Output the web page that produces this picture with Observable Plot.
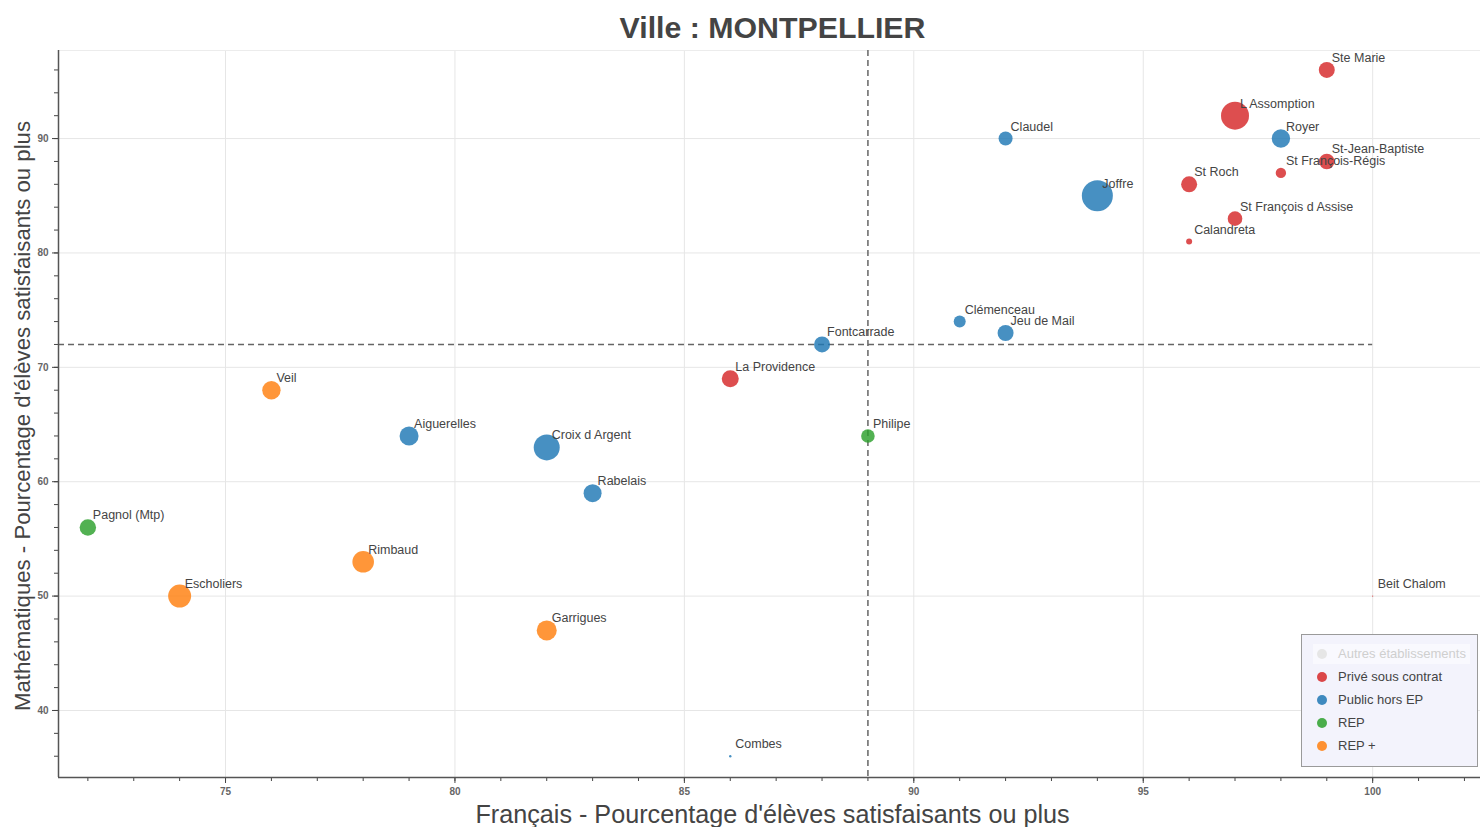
<!DOCTYPE html>
<html>
<head>
<meta charset="utf-8">
<script src="https://cdn.jsdelivr.net/npm/d3@7"></script>
<script src="https://cdn.jsdelivr.net/npm/@observablehq/plot@0.6"></script>
<style>
  html, body { margin: 0; padding: 0; background: #fff; }
  #wrap { position: relative; width: 1480px; height: 827px; font-family: "Liberation Sans", Arial, sans-serif; }
  #legend { position: absolute; left: 1301px; top: 634px; width: 175px; height: 131px;
            background: #f3f3fc; border: 1px solid #9a9a9a; font-size: 13px; color: #444; }
  .item { position: absolute; left: 11px; height: 20px; line-height: 20px; white-space: nowrap; padding: 0 4px; }
  .dot { display: inline-block; width: 10px; height: 10px; border-radius: 50%; margin-right: 11px; vertical-align: -1px; }
</style>
</head>
<body>
<div id="wrap"></div>
<script>
// ---- data ----
const noms = ["Ste Marie", "L Assomption", "Royer", "St-Jean-Baptiste", "St François-Régis", "St Roch",
  "St François d Assise", "Calandreta", "Claudel", "Joffre", "Clémenceau", "Jeu de Mail", "Fontcarrade",
  "La Providence", "Philipe", "Veil", "Aiguerelles", "Croix d Argent", "Rabelais", "Pagnol (Mtp)",
  "Rimbaud", "Escholiers", "Garrigues", "Combes", "Beit Chalom"];
const francais = [99, 97, 98, 99, 98, 96, 97, 96, 92, 94, 91, 92, 88, 86, 89, 76, 79, 82, 83, 72, 78, 74, 82, 86, 100];
const maths = [96, 92, 90, 88, 87, 86, 83, 81, 90, 85, 74, 73, 72, 69, 64, 68, 64, 63, 59, 56, 53, 50, 47, 36, 50];
const secteur = ["Privé sous contrat", "Privé sous contrat", "Public hors EP", "Privé sous contrat", "Privé sous contrat",
  "Privé sous contrat", "Privé sous contrat", "Privé sous contrat", "Public hors EP", "Public hors EP",
  "Public hors EP", "Public hors EP", "Public hors EP", "Privé sous contrat", "REP", "REP +", "Public hors EP",
  "Public hors EP", "Public hors EP", "REP", "REP +", "REP +", "REP +", "Public hors EP", "Privé sous contrat"];
const effectif = [80, 140, 92, 78, 52, 80, 73, 30, 70, 155, 60, 80, 80, 85, 68, 92, 95, 130, 90, 82, 108, 115, 100, 12, 6];
const categories = ["Autres établissements", "Privé sous contrat", "Public hors EP", "REP", "REP +"];
const couleurs = ["#d9d9d9", "#d62728", "#1f77b4", "#2ca02c", "#ff7f0e"];
const seuilFrancais = 89;
const seuilMaths = 72;
const ticksX = [75, 80, 85, 90, 95, 100];
const ticksY = [40, 50, 60, 70, 80, 90];
const titre = "Ville : MONTPELLIER";
const labelX = "Français - Pourcentage d'élèves satisfaisants ou plus";
const labelY = "Mathématiques - Pourcentage d'élèves satisfaisants ou plus";

const data = noms.map((n, i) => ({nom: n, fr: francais[i], ma: maths[i], secteur: secteur[i], eff: effectif[i]}));
const xDom = [71.36, 102.35];
const yDom = [34.14, 97.7];
const minorX = d3.range(72, 103);
const minorY = d3.range(36, 98, 2);

const chart = Plot.plot({
  width: 1480,
  height: 827,
  marginTop: 50,
  marginLeft: 58,
  marginRight: 0,
  marginBottom: 50,
  style: {fontFamily: '"Liberation Sans", Arial, sans-serif', background: "#fff"},
  x: {domain: xDom, axis: null},
  y: {domain: yDom, axis: null},
  r: {type: "linear", domain: [0, 100], range: [0, 10]},
  color: {domain: categories, range: couleurs},
  marks: [
    Plot.gridX(ticksX, {stroke: "#e6e6e6", strokeOpacity: 1}),
    Plot.gridY(ticksY, {stroke: "#e6e6e6", strokeOpacity: 1}),
    Plot.ruleY([yDom[1]], {stroke: "#ececec"}),
    Plot.ruleX([seuilFrancais], {stroke: "#666", strokeWidth: 1.5, strokeDasharray: "6,4"}),
    Plot.ruleY([seuilMaths], {x1: xDom[0], x2: 100, stroke: "#666", strokeWidth: 1.5, strokeDasharray: "6,4"}),
    Plot.dot(data, {x: "fr", y: "ma", r: "eff", fill: "secteur", fillOpacity: 0.82, stroke: null}),
    Plot.text(data, {x: "fr", y: "ma", text: "nom", dx: 5, dy: -12, textAnchor: "start", lineAnchor: "middle",
      fontSize: 12.5, fill: "#444"}),
    Plot.axisX(minorX, {tickSize: 4, text: null, label: null, stroke: "#444"}),
    Plot.axisX(ticksX, {tickSize: 6, tickPadding: 4, fontSize: 10, fontWeight: "bold", fill: "#666", stroke: "#444", label: null}),
    Plot.axisY(minorY, {tickSize: 4, text: null, label: null, stroke: "#444"}),
    Plot.axisY(ticksY, {tickSize: 6, tickPadding: 4, fontSize: 10, fontWeight: "bold", fill: "#666", stroke: "#444", label: null}),
    Plot.ruleX([xDom[0]], {stroke: "#555", strokeWidth: 1.5}),
    Plot.ruleY([yDom[0]], {stroke: "#555", strokeWidth: 1.5}),
    Plot.text([titre], {frameAnchor: "top", dy: -22, dx: 3, lineAnchor: "middle", text: d => d, fontSize: 30.3, fontWeight: "bold", fill: "#444"}),
    Plot.text([labelX], {frameAnchor: "bottom", dy: 37, dx: 3, lineAnchor: "middle", text: d => d, fontSize: 25.2, fill: "#444"}),
    Plot.text([labelY], {frameAnchor: "left", dx: -36, dy: 2, rotate: -90, textAnchor: "middle", lineAnchor: "middle", text: d => d, fontSize: 22.2, fill: "#444"})
  ]
});

const wrap = document.getElementById("wrap");
wrap.appendChild(chart);

const legend = document.createElement("div");
legend.id = "legend";
categories.forEach((c, i) => {
  const it = document.createElement("div");
  it.className = "item";
  it.style.top = (9 + i * 23) + "px";
  const dot = document.createElement("span");
  dot.className = "dot";
  dot.style.background = couleurs[i];
  if (i === 0) { dot.style.background = "#e6e6e6"; it.style.color = "#cfcfcf"; it.style.background = "#f9f9fe"; }
  else dot.style.opacity = 0.85;
  it.appendChild(dot);
  it.appendChild(document.createTextNode(c));
  legend.appendChild(it);
});
wrap.appendChild(legend);
</script>
</body>
</html>
